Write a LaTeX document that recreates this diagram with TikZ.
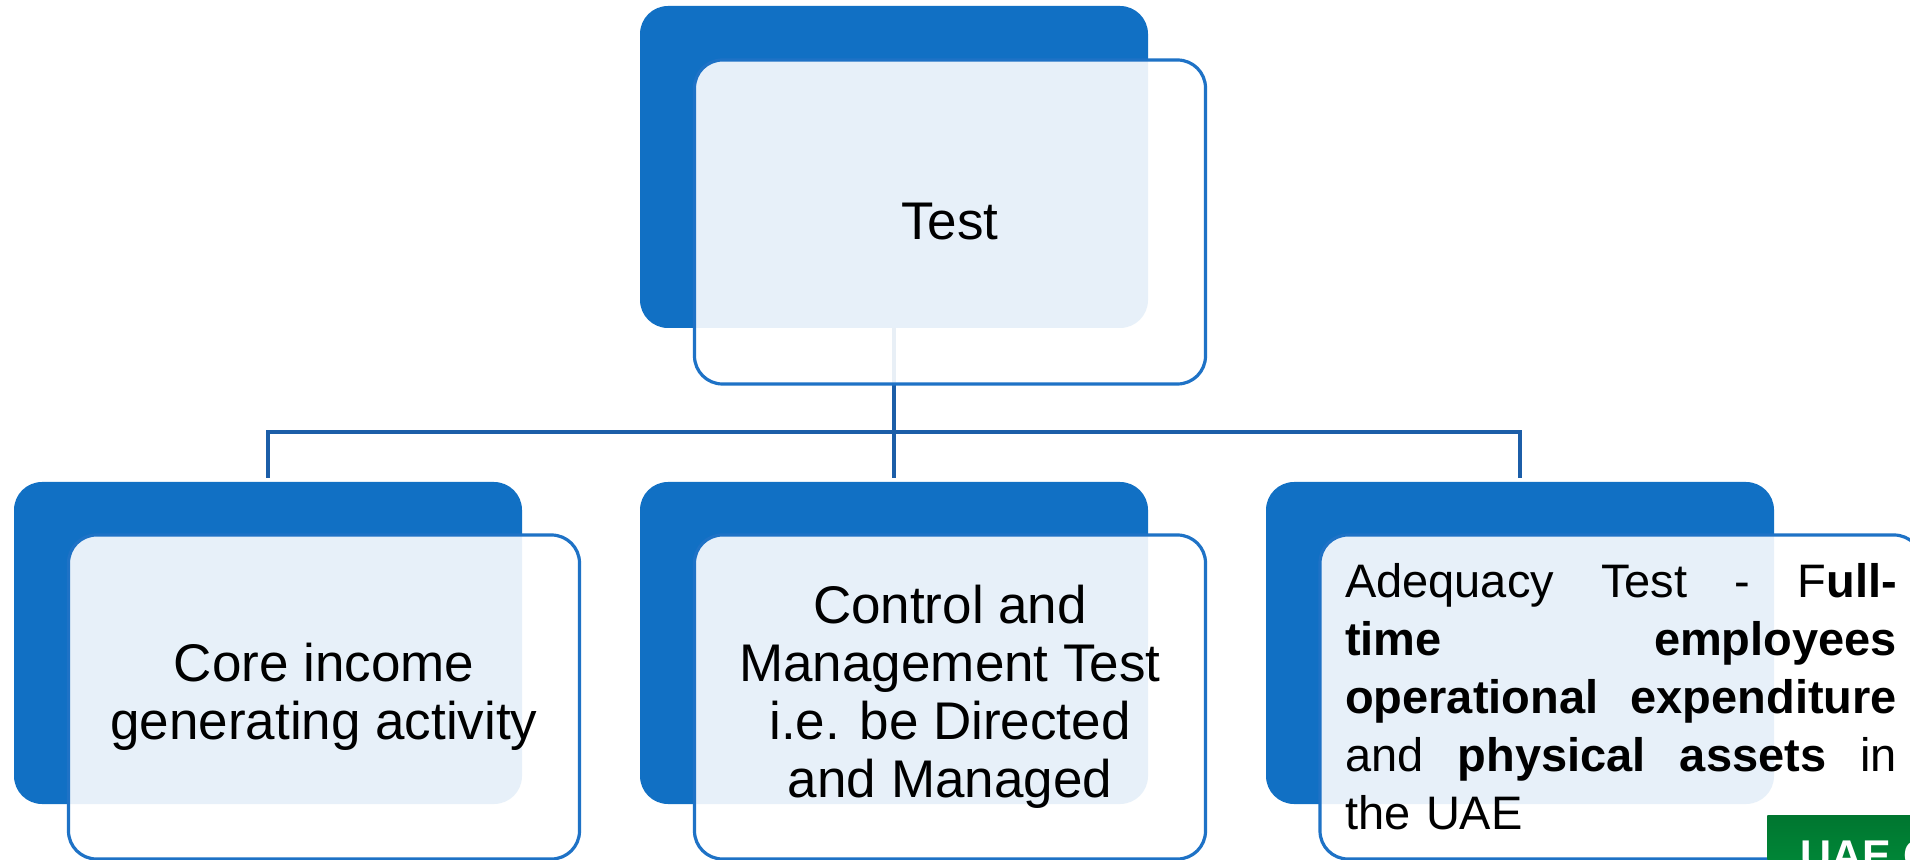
\documentclass[tikz,border=0pt]{standalone}
\usepackage{fontspec}
\setmainfont{Liberation Sans}
\definecolor{boxblue}{RGB}{17,112,196}
\definecolor{rimblue}{RGB}{30,114,198}
\definecolor{linkblue}{RGB}{28,94,168}
\definecolor{tagtop}{RGB}{0,118,48}
\definecolor{tagbottom}{RGB}{0,146,60}
% one justified line of the adequacy label
\newcommand{\fullline}[1]{\leavevmode\hbox to 276pt{#1}}

\begin{document}
\begin{tikzpicture}[x=0.5pt,y=-0.5pt,
  backcard/.style={rectangle, rounded corners=14pt, fill=boxblue, draw=none,
    minimum width=254pt, minimum height=161pt, inner sep=0pt},
  frontcard/.style={rectangle, rounded corners=14pt, fill=white, fill opacity=0.9,
    text opacity=1, draw=rimblue, line width=1.6pt, minimum width=255.5pt,
    minimum height=162pt, inner sep=0pt, align=center,
    font=\fontsize{26.5}{29}\selectfont},
  link/.style={draw=linkblue, line width=2pt},
  tag/.style={rectangle, top color=tagtop, bottom color=tagbottom, text=white,
    font=\bfseries\fontsize{21.5}{24}\selectfont, inner xsep=16.5pt, inner ysep=12.5pt,
    minimum width=90pt, minimum height=40pt, anchor=north west, align=left}
]
\useasboundingbox (0,0) rectangle (1910,860);
\fill[white] (0,0) rectangle (1910,860);
\clip (0,0) rectangle (1910,860);

% solid back cards
\node[backcard] (topback)  at (894,167) {};
\node[backcard] (coreback) at (268,643) {};
\node[backcard] (ctrlback) at (894,643) {};
\node[backcard] (adeqback) at (1520,643) {};

% tree connectors
\coordinate (bus) at (894,432);
\draw[link] (topback.south) -- ([yshift=2pt]ctrlback.north);
\draw[link] ([yshift=2pt]coreback.north) |- (bus) -| ([yshift=2pt]adeqback.north);

% translucent front cards with the labels
\node[frontcard] (top) at (950,222) {Test};
\node[frontcard] (core) at (324,697) {Core income\\generating activity};
\node[frontcard] (ctrl) at (950,697) {Control and\\Management Test\\i.e. be Directed\\and Managed};
\node[frontcard, minimum width=301pt, text width=276pt, align=left,
      font=\fontsize{23.5}{29}\selectfont] (adeq) at (1621,697)
  {\fullline{Adequacy\hfill Test\hfill -\hfill F\textbf{ull-}}\\
   \fullline{\textbf{time}\hfill\textbf{employees}}\\
   \fullline{\textbf{operational}\hfill\textbf{expenditure}}\\
   \fullline{and\hfill\textbf{physical}\hfill\textbf{assets}\hfill in}\\
   the UAE};

% green corner tag
\node[tag] (uaetag) at (1767,815) {UAE C};
\end{tikzpicture}
\end{document}
